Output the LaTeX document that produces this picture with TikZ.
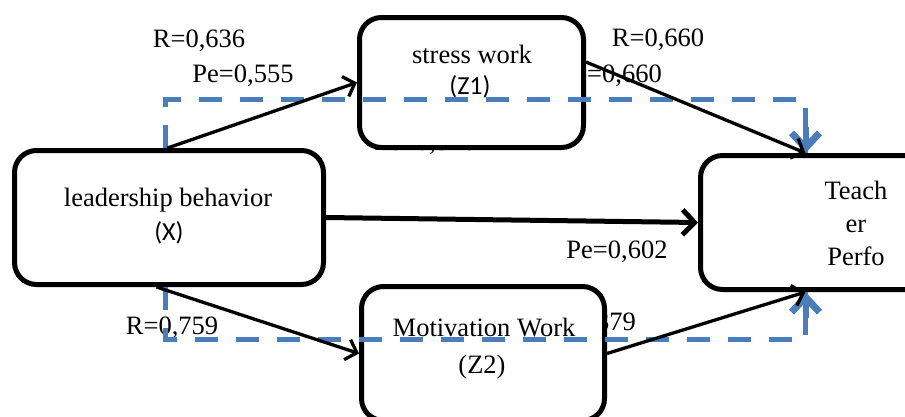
\documentclass[tikz,border=0pt]{standalone}
\usepackage{fontspec}
\setmainfont{Liberation Serif}
\newfontfamily\calfont{Carlito}
\usetikzlibrary{arrows.meta,calc}
\definecolor{medblue}{RGB}{74,126,187}
\begin{document}
\begin{tikzpicture}[x=1pt,y=-1pt,
  box/.style={draw=black, line width=5pt, rounded corners=22pt, fill=white, inner sep=0pt},
  lab/.style={font=\fontsize{26.5}{30}\selectfont, inner sep=0pt, anchor=base},
  labr/.style={font=\fontsize{26.5}{30}\selectfont, inner sep=0pt, anchor=base east},
  sflab/.style={font=\calfont\fontsize{26}{30}\selectfont, inner sep=0pt, anchor=base},
  link/.style={line width=3.3pt, -{Straight Barb[length=10pt,width=21pt]}},
  mainlink/.style={line width=5pt, -{Straight Barb[length=12pt,width=25pt]}},
  med/.style={draw=medblue, line width=5.5pt, dash pattern=on 23pt off 18pt},
  medtip/.style={draw=medblue, line width=6pt, -{Straight Barb[length=15pt,width=28pt,line width=7pt]}}
]
\useasboundingbox (0,0) rectangle (905,416);
\clip (0,0) rectangle (905,416);
% labels (some partly hidden behind boxes)
\node[labr] (l4) at (662,82) {Pe=0,660};
\node[lab] (l5) at (425,150) {Pe=0,546};
\node[labr] (l6) at (636,330) {R=0,379};
\node[lab] (l1) at (199,47) {R=0,636};
\node[lab] (l2) at (243,82) {Pe=0,555};
\node[lab] (l3) at (658,46) {R=0,660};
\node[lab] (l7) at (617,258) {Pe=0,602};
\node[lab] (l8) at (172,334) {R=0,759};
% boxes
\node[box, minimum width=309pt, minimum height=134pt] (X) at (169,217.5) {};
\node[box, minimum width=224pt, minimum height=130pt] (Z1) at (471.5,82.5) {};
\node[box, minimum width=243pt, minimum height=134pt] (Z2) at (483,353.5) {};
\node[box, minimum width=310pt, minimum height=134pt] (Y) at (855.5,222.5) {};
% box texts
\node[lab] (xt1) at (168,206) {leadership behavior};
\node[sflab] (xt2) at (169,240) {(X)};
\node[lab] (z1t1) at (472,63) {stress work};
\node[sflab] (z1t2) at (470,94) {(Z1)};
\node[lab] (z2t1) at (484,336) {Motivation Work};
\node[lab] (z2t2) at (482,373) {(Z2)};
\node[lab] (yt1) at (856,199) {Teach};
\node[lab] (yt2) at (856,232) {er};
\node[lab] (yt3) at (856,265) {Perfo};
% anchor points
\coordinate (xtopm) at ($(X.north west)+(153.5,0)$);
\coordinate (xbotm) at ($(X.south west)+(153.5,0)$);
\coordinate (ytop) at ($(Y.north west)+(107.5,0)$);
\coordinate (ybot) at ($(Y.south west)+(107.5,0)$);
\coordinate (topline) at ($(ytop)+(0,-53.5)$);
\coordinate (botline) at ($(ybot)+(0,47.5)$);
\coordinate (topstem) at ($(ytop)+(0,-26)$);
\coordinate (botstem) at ($(ybot)+(0,26)$);
% mediation dashed paths
\draw[med] (xtopm) |- (topline) -- (ytop);
\draw[medtip] (topstem) -- (ytop);
\draw[med] (xbotm) |- (botline) -- (ybot);
\draw[medtip] (botstem) -- (ybot);
% direct arrows
\draw[link] ($(X.north west)+(155.5,0)$) -- (Z1.west);
\draw[link] ($(Z1.east)+(0,-20.5)$) -- (ytop);
\draw[mainlink] (X.east) -- (Y.west);
\draw[link] ($(X.south west)+(144.5,0)$) -- (Z2.west);
\draw[link] (Z2.east) -- (ybot);
\end{tikzpicture}
\end{document}
